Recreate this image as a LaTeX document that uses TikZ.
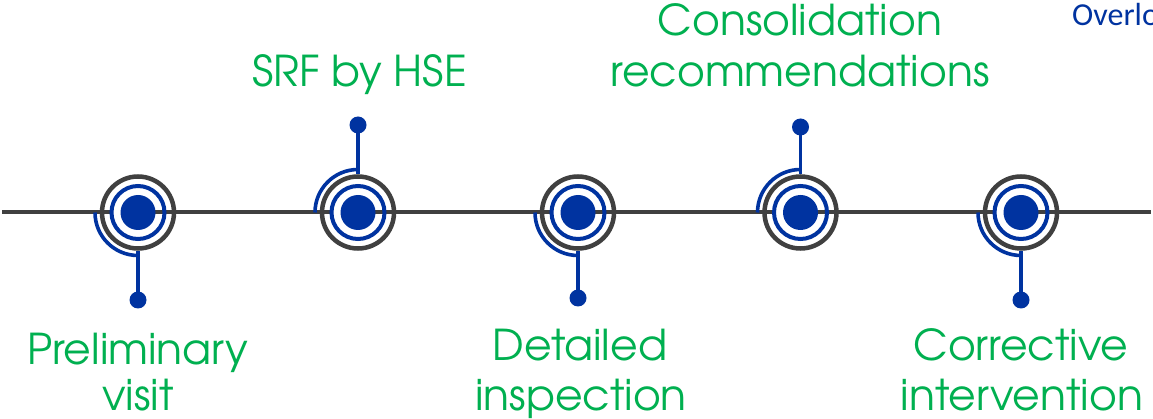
\documentclass[tikz,border=0pt]{standalone}
\usepackage{fontspec}
\setmainfont{texgyreadventor-regular.otf}
\newfontfamily\calfont{Carlito}
\definecolor{tlgreen}{RGB}{0,176,80}
\definecolor{tlblue}{RGB}{0,51,160}
\definecolor{tlgray}{RGB}{64,64,64}
\begin{document}
\begin{tikzpicture}[x=1pt,y=-1pt,
  hline/.style={draw=tlgray,line width=4pt},
  grayring/.style={circle,draw=tlgray,line width=4.5pt,minimum size=72pt,inner sep=0pt},
  bluering/.style={circle,draw=tlblue,line width=4pt,minimum size=53pt,inner sep=0pt},
  bigdot/.style={circle,fill=tlblue,minimum size=35pt,inner sep=0pt},
  enddot/.style={circle,fill=tlblue,minimum size=17pt,inner sep=0pt},
  conn/.style={draw=tlblue,line width=3.6pt},
  lbl/.style={text=tlgreen,font=\fontsize{42.5}{48}\selectfont,anchor=base,inner sep=0pt},
]
\useasboundingbox[fill=white] (0,0) rectangle (1153,419);
% centres
\coordinate (c1) at (138,212.5);
\coordinate (c2) at (358,212.5);
\coordinate (c3) at (578,212.5);
\coordinate (c4) at (800.5,212.5);
\coordinate (c5) at (1021,212.5);
\coordinate (L) at (2,212.5);
\coordinate (R) at (1151,212.5);
% rings (placed first as invisible to get anchors)
\foreach \i in {1,...,5}{
  \path (c\i) node[bluering,draw=none] (b\i) {};
}
% horizontal line segments
\draw[hline] (L) -- (b1.west);
\draw[hline] (c1) -- (b2.west);
\draw[hline] (c2) -- (b3.west);
\draw[hline] (c3) -- (b4.west);
\draw[hline] (c4) -- (b5.west);
\draw[hline] (c5) -- (R);
% rings and dots
\foreach \i in {1,...,5}{
  \node[grayring] (g\i) at (c\i) {};
  \node[bluering] at (c\i) {};
  \node[bigdot] (d\i) at (c\i) {};
}
% end dots
\node[enddot] (e1) at (138,300) {};
\node[enddot] (e2) at (358,125) {};
\node[enddot] (e3) at (578,298) {};
\node[enddot] (e4) at (800.5,127) {};
\node[enddot] (e5) at (1021,300) {};
% connectors
\foreach \i in {1,3,5}{
  \draw[conn] (g\i.south) -- (e\i.center);
  \draw[conn] (c\i) ++(-43pt,0) arc[start angle=180,end angle=270,radius=43pt];
}
\foreach \i in {2,4}{
  \draw[conn] (g\i.north) -- (e\i.center);
  \draw[conn] (c\i) ++(-43pt,0) arc[start angle=180,end angle=90,radius=43pt];
}
% labels
\node[lbl] (t1a) at (138,364) {Preliminary};
\node[lbl] (t1b) at (138,410) {visit};
\node[lbl] (t2) at (359.5,87) {SRF by HSE};
\node[lbl] (t4a) at (800,36) {Consolidation};
\node[lbl] (t4b) at (800,87) {recommendations};
\node[lbl] (t3a) at (580,360) {Detailed};
\node[lbl] (t3b) at (581,410) {inspection};
\node[lbl] (t5a) at (1021,360) {Corrective};
\node[lbl] (t5b) at (1022,410) {intervention};
\node[text=tlblue,font=\calfont\fontsize{32}{36}\selectfont,anchor=base west,inner sep=0pt] (ov) at (1072,26) {Overlo};
\end{tikzpicture}
\end{document}
